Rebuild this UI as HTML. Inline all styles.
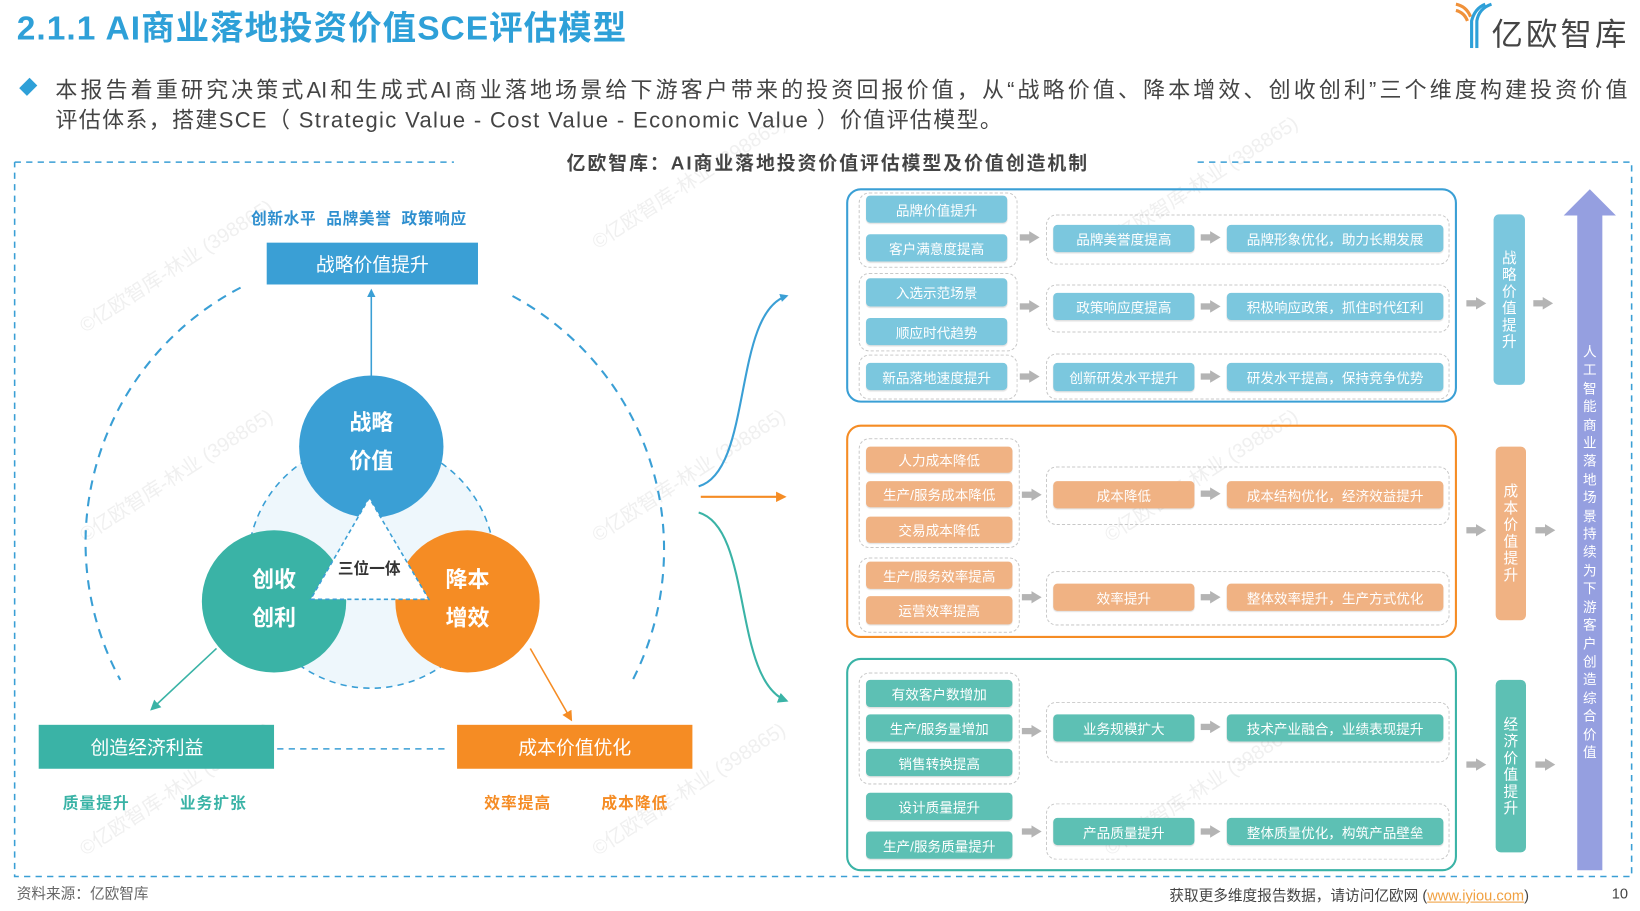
<!DOCTYPE html>
<html><head><meta charset="utf-8">
<style>
html,body{margin:0;padding:0;background:#fff;overflow:hidden;width:1640px;height:911px}
#s{position:absolute;left:0;top:0;width:1568px;height:871px;transform:scale(1.04592);transform-origin:0 0;font-family:"Liberation Sans","Noto Sans CJK SC",sans-serif}
.a{position:absolute}
.b{position:absolute;color:#fff;font-size:13px;display:flex;align-items:center;justify-content:center;border-radius:4px;white-space:nowrap;box-shadow:0 1px 1px rgba(0,0,0,.12)}
.bl{background:#7bc7de}.or{background:#f0b283}.te{background:#5dc0b4}
.g{position:absolute;border:1px dashed #c8c8c8;border-radius:10px}
.v{position:absolute;color:#fff;font-size:14px;border-radius:5px;display:flex;align-items:center;justify-content:center;writing-mode:vertical-rl;text-orientation:upright;letter-spacing:2px}
.wm{position:absolute;color:#f0f0f0;font-size:19px;transform:rotate(-33deg);white-space:nowrap}
</style></head><body><div id="s">
<div class="wm" style="left:60px;top:240px">©亿欧智库-林业 (398865)</div>
<div class="wm" style="left:60px;top:440px">©亿欧智库-林业 (398865)</div>
<div class="wm" style="left:60px;top:740px">©亿欧智库-林业 (398865)</div>
<div class="wm" style="left:550px;top:160px">©亿欧智库-林业 (398865)</div>
<div class="wm" style="left:550px;top:440px">©亿欧智库-林业 (398865)</div>
<div class="wm" style="left:550px;top:740px">©亿欧智库-林业 (398865)</div>
<div class="wm" style="left:1040px;top:160px">©亿欧智库-林业 (398865)</div>
<div class="wm" style="left:1040px;top:440px">©亿欧智库-林业 (398865)</div>
<div class="wm" style="left:1040px;top:740px">©亿欧智库-林业 (398865)</div>

<div class="a" style="left:16px;top:2px;font-size:32px;font-weight:bold;color:#2ea0d8;letter-spacing:1px">2.1.1 AI商业落地投资价值SCE评估模型</div>
<svg class="a" style="left:1390px;top:2px" width="40" height="44" viewBox="0 0 40 44">
<path d="M2 2 Q12 4 16 14" stroke="#f0913a" stroke-width="3" fill="none"/><path d="M2 8 Q10 10 13 18" stroke="#f0913a" stroke-width="3" fill="none"/>
<path d="M36 2 Q24 6 22 18 L22 44" stroke="#2ea0d8" stroke-width="3" fill="none"/><path d="M30 2 Q20 6 17 18 L17 44" stroke="#2ea0d8" stroke-width="3" fill="none"/></svg>
<div class="a" style="left:1426px;top:8px;font-size:30px;color:#444;letter-spacing:3px">亿欧智库</div>

<div class="a" style="left:20px;top:76px;width:14px;height:14px;background:#2ea0d8;transform:rotate(45deg) scale(.75,1)"></div>
<div class="a" style="left:53px;top:70px;width:1503px;font-size:21px;color:#444;text-align:justify;text-align-last:justify;white-space:nowrap">本报告着重研究决策式AI和生成式AI商业落地场景给下游客户带来的投资回报价值，从“战略价值、降本增效、创收创利”三个维度构建投资价值</div>
<div class="a" style="left:53px;top:99px;font-size:21px;color:#444;white-space:nowrap;letter-spacing:1.3px">评估体系，搭建SCE（ Strategic Value - Cost Value - Economic Value ）价值评估模型。</div>

<svg class="a" style="left:0;top:0" width="1568" height="871">
<defs>
<marker id="mb" markerWidth="8" markerHeight="8" refX="6" refY="4" orient="auto" markerUnits="userSpaceOnUse"><path d="M0,0 L8,4 L0,8 Z" fill="#3a9fd5"/></marker>
<marker id="mo" markerWidth="10" markerHeight="10" refX="8" refY="5" orient="auto" markerUnits="userSpaceOnUse"><path d="M0,0 L10,5 L0,10 Z" fill="#f58c24"/></marker>
<marker id="mt" markerWidth="10" markerHeight="10" refX="8" refY="5" orient="auto" markerUnits="userSpaceOnUse"><path d="M0,0 L10,5 L0,10 Z" fill="#3ab3a6"/></marker>
<marker id="ga" markerWidth="10" markerHeight="12" refX="2" refY="6" orient="auto" markerUnits="userSpaceOnUse"><path d="M0,0 L10,6 L0,12 Z" fill="#b4b4b4"/></marker>
</defs>
<g stroke="#3a9fd5" stroke-width="1.5" stroke-dasharray="6,5" fill="none">
<path d="M14 155 H434 M1145 155 H1560 V838 H14 V155"/>
</g>
<path d="M230 275 A275 275 0 0 0 115 650" stroke="#3a9fd5" stroke-width="2" stroke-dasharray="9,7" fill="none"/>
<path d="M490 283 A275 275 0 0 1 605 650" stroke="#3a9fd5" stroke-width="2" stroke-dasharray="9,7" fill="none"/>
<circle cx="355" cy="540" r="118" fill="#eef7fc" stroke="#3a9fd5" stroke-width="1.5" stroke-dasharray="6,5"/>
<line x1="355" y1="360" x2="355" y2="278" stroke="#3a9fd5" stroke-width="1.5" marker-end="url(#mb)"/>
<ellipse cx="355" cy="427" rx="69" ry="68" fill="#3a9fd5"/>
<ellipse cx="262" cy="575" rx="69" ry="68" fill="#3ab3a6"/>
<ellipse cx="447" cy="575" rx="69" ry="68" fill="#f58c24"/>
<path d="M353 476 L297 573 L410 573 Z" fill="#fff" stroke="#3a9fd5" stroke-width="1.5" stroke-dasharray="4,3"/>
<line x1="207" y1="620" x2="145" y2="678" stroke="#3ab3a6" stroke-width="1.5" marker-end="url(#mt)"/>
<line x1="507" y1="620" x2="546" y2="688" stroke="#f58c24" stroke-width="1.5" marker-end="url(#mo)"/>
<line x1="265" y1="716" x2="425" y2="716" stroke="#3a9fd5" stroke-width="1.5" stroke-dasharray="6,5"/>
<path d="M668 465 C720 450 700 300 752 283" stroke="#3a9fd5" stroke-width="2" fill="none" marker-end="url(#mb)"/>
<line x1="670" y1="475" x2="750" y2="475" stroke="#f58c24" stroke-width="2" marker-end="url(#mo)"/>
<path d="M668 490 C720 505 700 650 752 670" stroke="#3ab3a6" stroke-width="2" fill="none" marker-end="url(#mt)"/>
<rect x="810" y="181" width="582" height="203" rx="13" fill="none" stroke="#3a9fd5" stroke-width="2"/>
<rect x="810" y="407" width="582" height="202" rx="13" fill="none" stroke="#f58c24" stroke-width="2"/>
<rect x="810" y="630" width="582" height="202" rx="13" fill="none" stroke="#3ab3a6" stroke-width="2"/>
<g stroke="#b4b4b4" stroke-width="6" marker-end="url(#ga)">
<line x1="975" y1="227" x2="986" y2="227"/><line x1="1148" y1="227" x2="1159" y2="227"/>
<line x1="975" y1="293" x2="986" y2="293"/><line x1="1148" y1="293" x2="1159" y2="293"/>
<line x1="975" y1="360" x2="986" y2="360"/><line x1="1148" y1="360" x2="1159" y2="360"/>
<line x1="977" y1="473" x2="988" y2="473"/><line x1="1148" y1="472" x2="1159" y2="472"/>
<line x1="977" y1="571" x2="988" y2="571"/><line x1="1148" y1="571" x2="1159" y2="571"/>
<line x1="977" y1="699" x2="988" y2="699"/><line x1="1148" y1="695" x2="1159" y2="695"/>
<line x1="977" y1="795" x2="988" y2="795"/><line x1="1148" y1="795" x2="1159" y2="795"/>
<line x1="1402" y1="290" x2="1413" y2="290"/><line x1="1466" y1="290" x2="1477" y2="290"/>
<line x1="1402" y1="507" x2="1413" y2="507"/><line x1="1468" y1="507" x2="1479" y2="507"/>
<line x1="1402" y1="731" x2="1413" y2="731"/><line x1="1468" y1="731" x2="1479" y2="731"/>
</g>
<path d="M1520 181 L1545 206 L1532 206 L1532 832 L1508 832 L1508 206 L1495 206 Z" fill="#959fe0"/>
</svg>

<div class="a" style="left:540px;width:503px;top:142px;text-align:center;font-size:18px;font-weight:bold;color:#444;letter-spacing:1.9px;white-space:nowrap">亿欧智库：AI商业落地投资价值评估模型及价值创造机制</div>

<div class="a" style="left:240px;top:198px;font-size:15px;font-weight:bold;color:#2e8fcf;white-space:nowrap;letter-spacing:0.6px">创新水平&nbsp; 品牌美誉&nbsp; 政策响应</div>
<div class="b" style="left:255px;top:232px;width:202px;height:40px;background:#3a9fd5;font-size:18px;border-radius:0;box-shadow:none">战略价值提升</div>
<div class="a" style="left:300px;top:386px;width:110px;text-align:center;color:#fff;font-size:21px;font-weight:bold;line-height:37px">战略<br>价值</div>
<div class="a" style="left:207px;top:536px;width:110px;text-align:center;color:#fff;font-size:21px;font-weight:bold;line-height:37px">创收<br>创利</div>
<div class="a" style="left:392px;top:536px;width:110px;text-align:center;color:#fff;font-size:21px;font-weight:bold;line-height:37px">降本<br>增效</div>
<div class="a" style="left:303px;top:533px;width:100px;text-align:center;color:#333;font-size:15px;font-weight:bold">三位一体</div>
<div class="b" style="left:37px;top:693px;width:225px;height:42px;background:#3ab3a6;font-size:18px;border-radius:0;box-shadow:none;padding-right:18px;box-sizing:border-box">创造经济利益</div>
<div class="b" style="left:437px;top:693px;width:225px;height:42px;background:#f58c24;font-size:18px;border-radius:0;box-shadow:none">成本价值优化</div>
<div class="a" style="left:60px;top:757px;font-size:15px;font-weight:bold;color:#3ab3a6;letter-spacing:1px">质量提升</div>
<div class="a" style="left:172px;top:757px;font-size:15px;font-weight:bold;color:#3ab3a6;letter-spacing:1px">业务扩张</div>
<div class="a" style="left:463px;top:757px;font-size:15px;font-weight:bold;color:#f58c24;letter-spacing:1px">效率提高</div>
<div class="a" style="left:575px;top:757px;font-size:15px;font-weight:bold;color:#f58c24;letter-spacing:1px">成本降低</div>

<div class="g" style="left:821px;top:184px;width:150px;height:70px"></div>
<div class="g" style="left:821px;top:261px;width:150px;height:73px"></div>
<div class="g" style="left:821px;top:339px;width:150px;height:41px"></div>
<div class="g" style="left:1000px;top:205px;width:384px;height:46px"></div>
<div class="g" style="left:1000px;top:272px;width:384px;height:44px"></div>
<div class="g" style="left:1000px;top:338px;width:384px;height:42px"></div>
<div class="b bl" style="left:828px;top:187px;width:135px;height:26px">品牌价值提升</div>
<div class="b bl" style="left:828px;top:224px;width:135px;height:26px">客户满意度提高</div>
<div class="b bl" style="left:828px;top:266px;width:135px;height:27px">入选示范场景</div>
<div class="b bl" style="left:828px;top:304px;width:135px;height:26px">顺应时代趋势</div>
<div class="b bl" style="left:828px;top:347px;width:135px;height:26px">新品落地速度提升</div>
<div class="b bl" style="left:1007px;top:215px;width:135px;height:26px">品牌美誉度提高</div>
<div class="b bl" style="left:1173px;top:215px;width:207px;height:26px">品牌形象优化，助力长期发展</div>
<div class="b bl" style="left:1007px;top:280px;width:135px;height:26px">政策响应度提高</div>
<div class="b bl" style="left:1173px;top:280px;width:207px;height:26px">积极响应政策，抓住时代红利</div>
<div class="b bl" style="left:1007px;top:347px;width:135px;height:27px">创新研发水平提升</div>
<div class="b bl" style="left:1173px;top:347px;width:207px;height:27px">研发水平提高，保持竞争优势</div>
<div class="v bl" style="left:1428px;top:205px;width:30px;height:163px">战略价值提升</div>

<div class="g" style="left:821px;top:419px;width:152px;height:103px"></div>
<div class="g" style="left:821px;top:533px;width:152px;height:70px"></div>
<div class="g" style="left:1000px;top:446px;width:384px;height:54px"></div>
<div class="g" style="left:1000px;top:546px;width:384px;height:50px"></div>
<div class="b or" style="left:828px;top:427px;width:140px;height:25px">人力成本降低</div>
<div class="b or" style="left:828px;top:460px;width:140px;height:25px">生产/服务成本降低</div>
<div class="b or" style="left:828px;top:494px;width:140px;height:25px">交易成本降低</div>
<div class="b or" style="left:828px;top:537px;width:140px;height:26px">生产/服务效率提高</div>
<div class="b or" style="left:828px;top:570px;width:140px;height:27px">运营效率提高</div>
<div class="b or" style="left:1007px;top:460px;width:135px;height:26px">成本降低</div>
<div class="b or" style="left:1173px;top:460px;width:207px;height:26px">成本结构优化，经济效益提升</div>
<div class="b or" style="left:1007px;top:558px;width:135px;height:26px">效率提升</div>
<div class="b or" style="left:1173px;top:558px;width:207px;height:26px">整体效率提升，生产方式优化</div>
<div class="v or" style="left:1430px;top:427px;width:29px;height:166px">成本价值提升</div>

<div class="g" style="left:821px;top:643px;width:152px;height:105px"></div>
<div class="g" style="left:1000px;top:671px;width:384px;height:56px"></div>
<div class="g" style="left:1000px;top:768px;width:384px;height:52px"></div>
<div class="b te" style="left:828px;top:650px;width:140px;height:26px">有效客户数增加</div>
<div class="b te" style="left:828px;top:683px;width:140px;height:26px">生产/服务量增加</div>
<div class="b te" style="left:828px;top:716px;width:140px;height:26px">销售转换提高</div>
<div class="b te" style="left:828px;top:758px;width:140px;height:26px">设计质量提升</div>
<div class="b te" style="left:828px;top:795px;width:140px;height:26px">生产/服务质量提升</div>
<div class="b te" style="left:1007px;top:683px;width:135px;height:26px">业务规模扩大</div>
<div class="b te" style="left:1173px;top:683px;width:207px;height:26px">技术产业融合，业绩表现提升</div>
<div class="b te" style="left:1007px;top:782px;width:135px;height:26px">产品质量提升</div>
<div class="b te" style="left:1173px;top:782px;width:207px;height:26px">整体质量优化，构筑产品壁垒</div>
<div class="v te" style="left:1430px;top:650px;width:29px;height:165px">经济价值提升</div>

<div class="a" style="left:1508px;top:328px;width:24px;color:#fff;font-size:13px;line-height:17.4px;text-align:center">人<br>工<br>智<br>能<br>商<br>业<br>落<br>地<br>场<br>景<br>持<br>续<br>为<br>下<br>游<br>客<br>户<br>创<br>造<br>综<br>合<br>价<br>值</div>

<div class="a" style="left:16px;top:844px;font-size:14px;color:#666">资料来源：亿欧智库</div>
<div class="a" style="left:1118px;top:846px;font-size:14px;color:#444;white-space:nowrap">获取更多维度报告数据，请访问亿欧网 (<span style="color:#f0a040;text-decoration:underline">www.iyiou.com</span>)</div>
<div class="a" style="left:1541px;top:846px;font-size:14px;color:#444">10</div>
</div></body></html>
